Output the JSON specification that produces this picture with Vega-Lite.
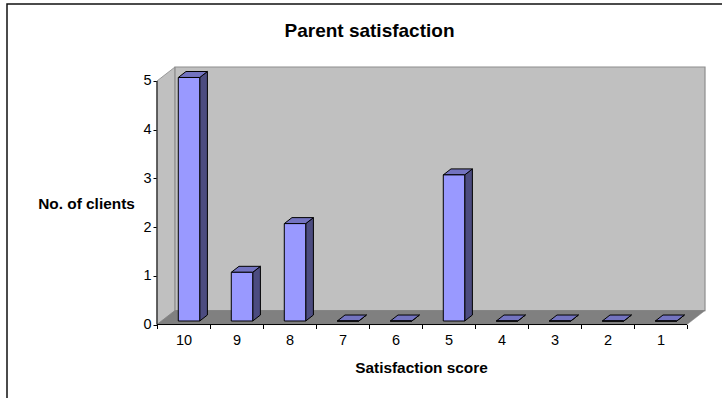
{
  "$schema": "https://vega.github.io/schema/vega-lite/v6.json",
  "width": 720,
  "height": 400,
  "autosize": "none",
  "padding": {"left": 7, "top": 4, "right": 0, "bottom": 0},
  "background": "white",
  "view": {"stroke": "#111111", "strokeWidth": 1.5, "fill": "white"},
  "title": {
    "text": "Parent satisfaction",
    "anchor": "middle",
    "dx": 2.5,
    "dy": 36.5,
    "offset": 0,
    "font": "Liberation Sans",
    "fontSize": 19,
    "fontWeight": "bold",
    "color": "black"
  },
  "config": {
    "axis": {
      "grid": false,
      "domain": false,
      "labelFont": "Liberation Sans",
      "labelFontSize": 14.5,
      "labelColor": "black",
      "tickColor": "black",
      "labelOverlap": false,
      "labelFlush": false,
      "titleFont": "Liberation Sans",
      "titleFontSize": 15.4,
      "titleFontWeight": "bold",
      "titleColor": "black"
    }
  },
  "params": [
    {"name": "wallDx", "value": 0.34},
    {"name": "wallDy", "value": 0.287},
    {"name": "barDx", "value": 0.145},
    {"name": "barDy", "value": 0.123},
    {"name": "barInset", "value": 0.402},
    {"name": "barWidth", "value": 0.404},
    {"name": "barLift", "value": 0.072}
  ],
  "data": {
    "values": [
      {"score": 10, "clients": 5},
      {"score": 9, "clients": 1},
      {"score": 8, "clients": 2},
      {"score": 7, "clients": 0},
      {"score": 6, "clients": 0},
      {"score": 5, "clients": 3},
      {"score": 4, "clients": 0},
      {"score": 3, "clients": 0},
      {"score": 2, "clients": 0},
      {"score": 1, "clients": 0}
    ]
  },
  "layer": [
    {
      "description": "Side wall of the 3D box, also carries both axes",
      "data": {"values": [{"t": 0}, {"t": 1}]},
      "transform": [
        {"calculate": "datum.t * wallDx", "as": "px"},
        {"calculate": "datum.t * wallDy", "as": "lo"},
        {"calculate": "5 + datum.t * wallDy", "as": "hi"}
      ],
      "mark": {"type": "area", "fill": "#C0C0C0", "stroke": "#9A9A9A", "strokeWidth": 1},
      "encoding": {
        "x": {
          "field": "px",
          "type": "quantitative",
          "scale": {"domain": [-2.83, 10.755], "nice": false, "zero": false},
          "axis": {
            "orient": "bottom",
            "offset": -79.5,
            "values": [0, 1, 2, 3, 4, 5, 6, 7, 8, 9, 10],
            "labelExpr": "datum.value < 10 ? format(10 - datum.value, 'd') : ''",
            "labelOffset": 26.5,
            "labelPadding": 5,
            "tickSize": 4,
            "title": "Satisfaction score",
            "titleX": 414,
            "titleY": 48,
            "titleBaseline": "alphabetic",
            "titleAnchor": "middle"
          }
        },
        "y": {
          "field": "lo",
          "type": "quantitative",
          "stack": null,
          "scale": {"domain": [-1.632, 6.581], "nice": false, "zero": false},
          "axis": {
            "orient": "left",
            "offset": -150,
            "values": [0, 1, 2, 3, 4, 5],
            "format": "d",
            "tickSize": 4,
            "labelPadding": 2,
            "title": "No. of clients",
            "titleAngle": 0,
            "titleX": -71,
            "titleY": 204,
            "titleBaseline": "alphabetic",
            "titleAlign": "center"
          }
        },
        "y2": {"field": "hi"}
      }
    },
    {
      "description": "Back wall",
      "data": {"values": [{}]},
      "mark": {"type": "rect", "fill": "#C0C0C0", "stroke": "#8E8E8E", "strokeWidth": 1.2},
      "encoding": {
        "x": {"datum": {"expr": "wallDx"}, "type": "quantitative", "scale": {"domain": [-2.83, 10.755], "nice": false, "zero": false}},
        "x2": {"datum": {"expr": "10 + wallDx"}},
        "y": {"datum": {"expr": "wallDy"}, "type": "quantitative", "scale": {"domain": [-1.632, 6.581], "nice": false, "zero": false}},
        "y2": {"datum": {"expr": "5 + wallDy"}}
      }
    },
    {
      "description": "Floor",
      "data": {"values": [{"t": 0}, {"t": 1}]},
      "transform": [
        {"calculate": "datum.t * wallDy", "as": "py"},
        {"calculate": "datum.t * wallDx", "as": "lo"},
        {"calculate": "10 + datum.t * wallDx", "as": "hi"}
      ],
      "mark": {"type": "area", "orient": "horizontal", "fill": "#808080", "stroke": "#808080", "strokeWidth": 0.5},
      "encoding": {
        "y": {"field": "py", "type": "quantitative", "scale": {"domain": [-1.632, 6.581], "nice": false, "zero": false}},
        "x": {"field": "lo", "type": "quantitative", "stack": null, "scale": {"domain": [-2.83, 10.755], "nice": false, "zero": false}},
        "x2": {"field": "hi"}
      }
    },
    {
      "description": "Right-hand face of each bar",
      "transform": [
        {"calculate": "[0, 1]", "as": "t"},
        {"flatten": ["t"]},
        {"calculate": "10 - datum.score + barInset + barWidth + datum.t * barDx", "as": "px"},
        {"calculate": "barLift + datum.t * barDy", "as": "lo"},
        {"calculate": "datum.lo + datum.clients", "as": "hi"}
      ],
      "mark": {"type": "area", "fill": "#4C4C80", "stroke": "black", "strokeWidth": 1},
      "encoding": {
        "detail": {"field": "score"},
        "x": {"field": "px", "type": "quantitative", "scale": {"domain": [-2.83, 10.755], "nice": false, "zero": false}},
        "y": {"field": "lo", "type": "quantitative", "stack": null, "scale": {"domain": [-1.632, 6.581], "nice": false, "zero": false}},
        "y2": {"field": "hi"}
      }
    },
    {
      "description": "Top face of each bar",
      "transform": [
        {"calculate": "[0, 1]", "as": "t"},
        {"flatten": ["t"]},
        {"calculate": "barLift + datum.clients + datum.t * barDy", "as": "py"},
        {"calculate": "10 - datum.score + barInset + datum.t * barDx", "as": "lo"},
        {"calculate": "datum.lo + barWidth", "as": "hi"}
      ],
      "mark": {"type": "area", "orient": "horizontal", "fill": "#7373C0", "stroke": "black", "strokeWidth": 1},
      "encoding": {
        "detail": {"field": "score"},
        "y": {"field": "py", "type": "quantitative", "scale": {"domain": [-1.632, 6.581], "nice": false, "zero": false}},
        "x": {"field": "lo", "type": "quantitative", "stack": null, "scale": {"domain": [-2.83, 10.755], "nice": false, "zero": false}},
        "x2": {"field": "hi"}
      }
    },
    {
      "description": "Front face of each bar",
      "transform": [
        {"calculate": "10 - datum.score + barInset", "as": "left"},
        {"calculate": "datum.left + barWidth", "as": "right"},
        {"calculate": "barLift", "as": "base"},
        {"calculate": "barLift + datum.clients", "as": "top"}
      ],
      "mark": {"type": "rect", "fill": "#9999FF", "stroke": "black", "strokeWidth": 1},
      "encoding": {
        "x": {"field": "left", "type": "quantitative", "scale": {"domain": [-2.83, 10.755], "nice": false, "zero": false}},
        "x2": {"field": "right"},
        "y": {"field": "base", "type": "quantitative", "scale": {"domain": [-1.632, 6.581], "nice": false, "zero": false}},
        "y2": {"field": "top"}
      }
    },
    {
      "description": "Axis lines along the front edge of the box",
      "data": {"values": [{}]},
      "mark": {"type": "rule", "color": "black", "strokeWidth": 1},
      "encoding": {
        "x": {"datum": 0, "type": "quantitative", "scale": {"domain": [-2.83, 10.755], "nice": false, "zero": false}},
        "x2": {"datum": 10},
        "y": {"datum": 0, "type": "quantitative", "scale": {"domain": [-1.632, 6.581], "nice": false, "zero": false}}
      }
    },
    {
      "data": {"values": [{}]},
      "mark": {"type": "rule", "color": "black", "strokeWidth": 1},
      "encoding": {
        "x": {"datum": 0, "type": "quantitative", "scale": {"domain": [-2.83, 10.755], "nice": false, "zero": false}},
        "y": {"datum": 0, "type": "quantitative", "scale": {"domain": [-1.632, 6.581], "nice": false, "zero": false}},
        "y2": {"datum": 5}
      }
    }
  ]
}
